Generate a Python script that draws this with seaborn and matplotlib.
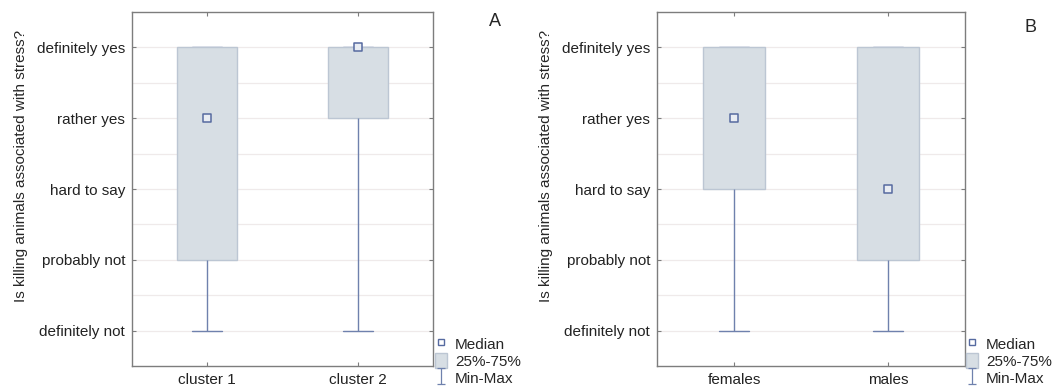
import numpy as np
import pandas as pd
import seaborn as sns
import matplotlib.pyplot as plt
from matplotlib.path import Path
from matplotlib.lines import Line2D
from matplotlib.patches import Patch

# answer scale (1 = definitely not ... 5 = definitely yes)
levels = ["definitely not", "probably not", "hard to say", "rather yes", "definitely yes"]

# panel A: clusters
groups_a = ["cluster 1", "cluster 2"]
min_a = [1, 1]
q1_a = [2, 4]
med_a = [4, 5]
q3_a = [5, 5]
max_a = [5, 5]

# panel B: sex
groups_b = ["females", "males"]
min_b = [1, 1]
q1_b = [3, 2]
med_b = [4, 3]
q3_b = [5, 5]
max_b = [5, 5]

ylab = "Is killing animals associated with stress?"

sns.set_style("white")
plt.rcParams["font.family"] = ["Liberation Sans", "DejaVu Sans"]

box_face = "#d7dee4"
box_edge = "#bcc6d3"
wcol = "#6f81ad"
med_col = "#566aa0"
spine_col = "#7d7d7d"


def make_df(groups, mn, q1, md, q3, mx):
    # five summary points per group -> boxplot with whis=(0,100) gives these exact stats
    rows = []
    for i, g in enumerate(groups):
        for v in (mn[i], q1[i], md[i], q3[i], mx[i]):
            rows.append((g, v))
    return pd.DataFrame(rows, columns=["group", "answer"])


def draw(ax, groups, mn, q1, md, q3, mx):
    df = make_df(groups, mn, q1, md, q3, mx)
    sns.boxplot(data=df, x="group", y="answer", order=groups, whis=(0, 100),
                width=0.4, showfliers=False, color=box_face, linecolor=box_edge,
                linewidth=1, saturation=1,
                whiskerprops=dict(color=wcol, linewidth=1),
                capprops=dict(color=wcol, linewidth=1, zorder=1.5),
                medianprops=dict(visible=False), ax=ax)
    med_df = pd.DataFrame({"group": groups, "median": md})
    sns.stripplot(data=med_df, x="group", y="median", order=groups, jitter=False,
                  marker="s", size=5.2, color="#e9edf3", edgecolor=med_col,
                  linewidth=1.1, zorder=5, ax=ax)
    ax.set_xlim(-0.5, 1.5)
    ax.set_ylim(0.5, 5.5)
    ax.set_yticks(range(1, 6))
    ax.set_yticklabels(levels)
    ax.set_yticks([1.5, 2.5, 3.5, 4.5], minor=True)
    ax.set_axisbelow(True)
    ax.grid(axis="y", which="both", color="#efeaea", linewidth=0.9)
    ax.set_xlabel("")
    ax.set_ylabel(ylab, fontsize=11, labelpad=6)
    ax.yaxis.label.set_y(0.565)
    ax.tick_params(axis="both", which="major", direction="in", length=3,
                   color=spine_col, labelsize=11, labelcolor="#222222",
                   top=True, right=True, left=True, bottom=True, pad=5)
    ax.tick_params(axis="y", which="minor", length=0)
    for s in ax.spines.values():
        s.set_color(spine_col)
        s.set_linewidth(1)
        s.set_visible(True)


fig = plt.figure(figsize=(10.64, 3.88), dpi=100)
W, H = 1064, 388
ax_a = fig.add_axes([132 / W, 22 / H, 301 / W, 354 / H])
ax_b = fig.add_axes([657 / W, 22 / H, 308 / W, 354 / H])

draw(ax_a, groups_a, min_a, q1_a, med_a, q3_a, max_a)
draw(ax_b, groups_b, min_b, q1_b, med_b, q3_b, max_b)

fig.text(495 / W, 1 - 22 / H, "A", fontsize=13, ha="center", va="center")
fig.text(1030 / W, 1 - 27 / H, "B", fontsize=13, ha="center", va="center")

# I-shaped min-max marker
imark = Path([(-0.5, 1), (0.5, 1), (0, 1), (0, -1), (-0.5, -1), (0.5, -1)],
             [Path.MOVETO, Path.LINETO, Path.MOVETO, Path.LINETO, Path.MOVETO, Path.LINETO])
handles = [
    Line2D([], [], ls="none", marker="s", markersize=4.5, markerfacecolor="white",
           markeredgecolor=med_col, markeredgewidth=1),
    Patch(facecolor=box_face, edgecolor=box_edge),
    Line2D([], [], ls="none", marker=imark, markersize=11, markeredgecolor=wcol,
           markeredgewidth=0.9),
]
labels = ["Median", "25%-75%", "Min-Max"]
for x0 in (435, 966):
    fig.legend(handles, labels, loc="upper left", bbox_to_anchor=(x0 / W, 1 - 336 / H),
               frameon=False, fontsize=11, handlelength=0.8, handleheight=1.1,
               handletextpad=0.5, labelspacing=0.1, borderpad=0, borderaxespad=0)

fig.savefig("out.png", dpi=100)
